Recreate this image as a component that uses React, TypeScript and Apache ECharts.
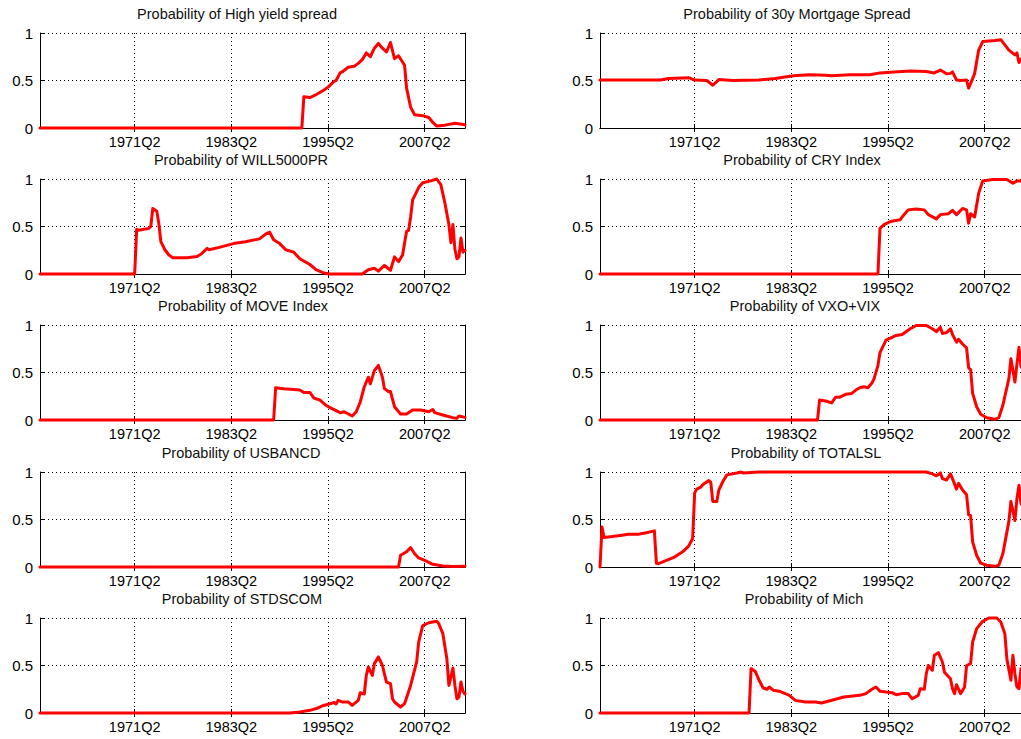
import React, { useEffect, useRef } from "react";
import * as echarts from "echarts";

// ---------- data ----------
const FIRST_YEAR = 1959;
const FIRST_Q = 3;
const LAST_YEAR = 2012;
const LAST_Q = 2;

const TICK_LABELS = ["1971Q2", "1983Q2", "1995Q2", "2007Q2"];
const Y_TICKS = [0, 0.5, 1];

const HIGH_YIELD: [string, number][] = [
  ["1959Q3", 0], ["1992Q1", 0], ["1992Q2", 0.33], ["1993Q1", 0.32], ["1993Q4", 0.35],
  ["1994Q4", 0.40], ["1995Q2", 0.43], ["1996Q1", 0.49], ["1996Q2", 0.50], ["1996Q4", 0.58],
  ["1997Q1", 0.59], ["1997Q4", 0.64], ["1998Q3", 0.65], ["1999Q1", 0.68], ["1999Q3", 0.72],
  ["2000Q1", 0.79], ["2000Q3", 0.75], ["2001Q1", 0.84], ["2001Q3", 0.89], ["2002Q1", 0.84],
  ["2002Q3", 0.80], ["2003Q1", 0.90], ["2003Q3", 0.73], ["2004Q1", 0.76], ["2004Q4", 0.66],
  ["2005Q1", 0.42], ["2005Q3", 0.22], ["2006Q1", 0.14], ["2007Q1", 0.13], ["2007Q4", 0.11],
  ["2008Q2", 0.06], ["2008Q4", 0.02], ["2009Q4", 0.03], ["2011Q1", 0.05], ["2012Q2", 0.035],
];

const MORTGAGE_30Y: [string, number][] = [
  ["1959Q3", 0.505], ["1967Q1", 0.505], ["1968Q1", 0.52], ["1970Q3", 0.53], ["1971Q2", 0.505],
  ["1972Q4", 0.50], ["1973Q3", 0.45], ["1974Q2", 0.51], ["1976Q1", 0.50], ["1979Q2", 0.505],
  ["1981Q2", 0.52], ["1983Q3", 0.55], ["1985Q3", 0.56], ["1987Q3", 0.555], ["1988Q2", 0.55],
  ["1990Q3", 0.56], ["1993Q1", 0.56], ["1994Q2", 0.58], ["1996Q1", 0.59], ["1998Q1", 0.60],
  ["2000Q1", 0.595], ["2001Q1", 0.58], ["2001Q4", 0.61], ["2002Q3", 0.57], ["2003Q1", 0.575],
  ["2003Q2", 0.59], ["2003Q4", 0.505], ["2004Q2", 0.50], ["2005Q1", 0.505], ["2005Q2", 0.42],
  ["2005Q4", 0.52], ["2006Q1", 0.575], ["2006Q3", 0.82], ["2007Q1", 0.91], ["2008Q3", 0.92],
  ["2009Q2", 0.93], ["2010Q2", 0.82], ["2011Q1", 0.77], ["2011Q2", 0.79], ["2011Q3", 0.69],
  ["2012Q1", 0.75], ["2012Q2", 0.73],
];

const WILL5000PR: [string, number][] = [
  ["1959Q3", 0], ["1971Q2", 0], ["1971Q3", 0.47], ["1971Q4", 0.46], ["1973Q1", 0.48],
  ["1973Q2", 0.50], ["1973Q3", 0.69], ["1974Q1", 0.66], ["1974Q2", 0.53], ["1974Q3", 0.34],
  ["1975Q1", 0.255], ["1975Q3", 0.20], ["1976Q1", 0.17], ["1977Q4", 0.17], ["1979Q1", 0.185],
  ["1979Q3", 0.21], ["1980Q2", 0.27], ["1980Q3", 0.255], ["1981Q4", 0.28], ["1983Q3", 0.32],
  ["1985Q1", 0.34], ["1986Q4", 0.37], ["1987Q3", 0.42], ["1988Q1", 0.44], ["1988Q3", 0.36],
  ["1989Q2", 0.32], ["1990Q1", 0.255], ["1991Q1", 0.23], ["1991Q4", 0.16], ["1993Q1", 0.10],
  ["1993Q4", 0.045], ["1994Q4", 0.01], ["1995Q3", 0], ["1999Q3", 0], ["2000Q2", 0.045],
  ["2001Q1", 0.06], ["2001Q3", 0.03], ["2002Q2", 0.09], ["2003Q1", 0.04], ["2003Q3", 0.18],
  ["2004Q1", 0.13], ["2004Q3", 0.20], ["2005Q1", 0.45], ["2005Q2", 0.46], ["2005Q3", 0.60],
  ["2005Q4", 0.78], ["2006Q3", 0.91], ["2007Q1", 0.96], ["2008Q1", 0.98], ["2008Q4", 1.0],
  ["2009Q2", 0.94], ["2009Q4", 0.75], ["2010Q2", 0.52], ["2010Q3", 0.33], ["2010Q4", 0.52],
  ["2011Q1", 0.26], ["2011Q2", 0.16], ["2011Q3", 0.18], ["2011Q4", 0.38], ["2012Q1", 0.23],
  ["2012Q2", 0.25],
];

const CRY_INDEX: [string, number][] = [
  ["1959Q3", 0], ["1994Q1", 0], ["1994Q2", 0.48], ["1994Q4", 0.52], ["1995Q3", 0.55],
  ["1996Q1", 0.56], ["1996Q4", 0.57], ["1997Q1", 0.60], ["1997Q4", 0.675], ["1998Q4", 0.685],
  ["1999Q4", 0.675], ["2000Q2", 0.625], ["2001Q2", 0.58], ["2001Q4", 0.625], ["2002Q4", 0.635],
  ["2003Q2", 0.67], ["2003Q4", 0.625], ["2004Q3", 0.69], ["2005Q1", 0.675], ["2005Q2", 0.535],
  ["2005Q3", 0.635], ["2006Q1", 0.60], ["2006Q3", 0.85], ["2007Q1", 0.98], ["2008Q2", 0.995],
  ["2010Q1", 0.995], ["2010Q4", 0.955], ["2011Q2", 0.98], ["2012Q2", 0.98],
];

const MOVE_INDEX: [string, number][] = [
  ["1959Q3", 0], ["1988Q3", 0], ["1988Q4", 0.34], ["1989Q4", 0.33], ["1991Q1", 0.32],
  ["1991Q4", 0.315], ["1992Q2", 0.29], ["1993Q1", 0.29], ["1993Q3", 0.23], ["1994Q2", 0.21],
  ["1995Q1", 0.155], ["1995Q3", 0.13], ["1996Q1", 0.11], ["1996Q4", 0.077], ["1997Q2", 0.087],
  ["1998Q2", 0.042], ["1998Q4", 0.087], ["1999Q2", 0.19], ["1999Q4", 0.35], ["2000Q2", 0.45],
  ["2000Q3", 0.38], ["2001Q1", 0.52], ["2001Q3", 0.575], ["2002Q1", 0.45], ["2002Q2", 0.33],
  ["2002Q4", 0.30], ["2003Q1", 0.30], ["2003Q3", 0.14], ["2004Q2", 0.063], ["2005Q1", 0.063],
  ["2005Q4", 0.105], ["2006Q4", 0.105], ["2007Q4", 0.087], ["2008Q2", 0.11], ["2008Q3", 0.077],
  ["2009Q3", 0.052], ["2010Q4", 0.024], ["2011Q2", 0.017], ["2011Q3", 0.042], ["2012Q2", 0.028],
];

const VXO_VIX: [string, number][] = [
  ["1959Q3", 0], ["1986Q3", 0], ["1986Q4", 0.21], ["1987Q3", 0.20], ["1988Q2", 0.18],
  ["1988Q4", 0.24], ["1989Q2", 0.24], ["1990Q1", 0.27], ["1990Q4", 0.28], ["1991Q2", 0.315],
  ["1991Q4", 0.34], ["1992Q2", 0.35], ["1992Q4", 0.34], ["1993Q2", 0.39], ["1993Q3", 0.43],
  ["1994Q1", 0.575], ["1994Q2", 0.71], ["1995Q1", 0.84], ["1995Q4", 0.87], ["1996Q2", 0.89],
  ["1997Q1", 0.90], ["1998Q1", 0.96], ["1998Q4", 0.995], ["2000Q1", 0.995], ["2000Q4", 0.96],
  ["2001Q2", 0.93], ["2001Q4", 0.975], ["2002Q1", 0.91], ["2002Q3", 0.92], ["2003Q1", 0.96],
  ["2003Q2", 0.90], ["2003Q4", 0.82], ["2004Q1", 0.85], ["2004Q3", 0.80], ["2005Q1", 0.76],
  ["2005Q2", 0.55], ["2005Q3", 0.53], ["2005Q4", 0.28], ["2006Q2", 0.14], ["2006Q4", 0.06],
  ["2007Q3", 0.024], ["2008Q3", 0.007], ["2009Q1", 0.024], ["2009Q3", 0.155], ["2010Q2", 0.435],
  ["2010Q3", 0.645], ["2011Q1", 0.40], ["2011Q2", 0.59], ["2011Q3", 0.765], ["2011Q4", 0.565],
  ["2012Q2", 0.5],
];

const USBANCD: [string, number][] = [
  ["1959Q3", 0], ["2004Q1", 0], ["2004Q2", 0.124], ["2005Q1", 0.16], ["2005Q3", 0.205],
  ["2006Q1", 0.14], ["2006Q3", 0.095], ["2007Q2", 0.07], ["2008Q2", 0.028], ["2009Q3", 0.01],
  ["2010Q4", 0.004], ["2012Q2", 0.007],
];

const TOTALSL: [string, number][] = [
  ["1959Q3", 0], ["1959Q4", 0.42], ["1960Q1", 0.31], ["1961Q1", 0.32], ["1962Q2", 0.335],
  ["1963Q1", 0.345], ["1964Q2", 0.345], ["1965Q2", 0.36], ["1966Q2", 0.38], ["1966Q3", 0.04],
  ["1966Q4", 0.035], ["1967Q4", 0.07], ["1968Q4", 0.105], ["1969Q4", 0.16], ["1970Q3", 0.22],
  ["1971Q1", 0.30], ["1971Q2", 0.78], ["1971Q3", 0.82], ["1972Q1", 0.84], ["1972Q2", 0.865],
  ["1973Q1", 0.91], ["1973Q2", 0.89], ["1973Q3", 0.69], ["1974Q1", 0.69], ["1974Q2", 0.81],
  ["1974Q4", 0.90], ["1975Q2", 0.97], ["1976Q3", 0.99], ["1977Q1", 1.0], ["1977Q2", 0.99],
  ["1979Q2", 1.0], ["2000Q1", 1.0], ["2000Q4", 0.98], ["2001Q2", 0.96], ["2001Q4", 0.99],
  ["2002Q1", 0.93], ["2002Q3", 0.915], ["2003Q1", 0.98], ["2003Q2", 0.93], ["2003Q4", 0.82],
  ["2004Q1", 0.88], ["2004Q3", 0.81], ["2005Q1", 0.76], ["2005Q2", 0.55], ["2005Q3", 0.54],
  ["2005Q4", 0.265], ["2006Q2", 0.124], ["2006Q4", 0.04], ["2007Q3", 0.018], ["2008Q3", 0.007],
  ["2009Q1", 0.018], ["2009Q3", 0.14], ["2010Q2", 0.48], ["2010Q3", 0.69], ["2011Q1", 0.49],
  ["2011Q2", 0.72], ["2011Q3", 0.86], ["2011Q4", 0.67], ["2012Q2", 0.6],
];

const STDSCOM: [string, number][] = [
  ["1959Q3", 0], ["1990Q3", 0], ["1991Q4", 0.01], ["1993Q1", 0.028], ["1994Q1", 0.053],
  ["1994Q3", 0.074], ["1995Q3", 0.098], ["1996Q1", 0.11], ["1996Q2", 0.095], ["1996Q3", 0.133],
  ["1997Q1", 0.116], ["1997Q4", 0.116], ["1998Q2", 0.08], ["1999Q1", 0.133], ["1999Q2", 0.214],
  ["1999Q4", 0.20], ["2000Q1", 0.396], ["2000Q2", 0.484], ["2000Q4", 0.396], ["2001Q1", 0.52],
  ["2001Q3", 0.59], ["2002Q1", 0.50], ["2002Q3", 0.326], ["2003Q1", 0.31], ["2003Q2", 0.15],
  ["2003Q3", 0.116], ["2004Q2", 0.063], ["2004Q4", 0.098], ["2005Q3", 0.29], ["2006Q2", 0.537],
  ["2006Q3", 0.747], ["2007Q1", 0.92], ["2007Q4", 0.95], ["2008Q4", 0.965], ["2009Q1", 0.94],
  ["2009Q3", 0.835], ["2010Q1", 0.57], ["2010Q2", 0.29], ["2010Q4", 0.474], ["2011Q1", 0.29],
  ["2011Q2", 0.15], ["2011Q3", 0.168], ["2011Q4", 0.326], ["2012Q1", 0.228], ["2012Q2", 0.20],
];

const MICH: [string, number][] = [
  ["1959Q3", 0], ["1978Q1", 0], ["1978Q2", 0.467], ["1978Q4", 0.44], ["1979Q2", 0.344],
  ["1979Q4", 0.263], ["1980Q2", 0.25], ["1980Q3", 0.274], ["1981Q1", 0.24], ["1981Q4", 0.23],
  ["1983Q1", 0.186], ["1983Q4", 0.133], ["1985Q1", 0.116], ["1986Q2", 0.116], ["1987Q1", 0.105],
  ["1988Q3", 0.14], ["1989Q4", 0.168], ["1991Q4", 0.186], ["1992Q3", 0.204], ["1993Q2", 0.25],
  ["1993Q4", 0.274], ["1994Q2", 0.23], ["1995Q1", 0.22], ["1995Q4", 0.214], ["1996Q2", 0.193],
  ["1997Q1", 0.204], ["1997Q4", 0.204], ["1998Q2", 0.15], ["1999Q1", 0.186], ["1999Q2", 0.256],
  ["1999Q4", 0.25], ["2000Q1", 0.414], ["2000Q2", 0.50], ["2000Q4", 0.45], ["2001Q1", 0.607],
  ["2001Q3", 0.635], ["2002Q1", 0.537], ["2002Q2", 0.43], ["2003Q1", 0.36], ["2003Q2", 0.256],
  ["2003Q3", 0.204], ["2003Q4", 0.298], ["2004Q2", 0.204], ["2004Q4", 0.274], ["2005Q1", 0.50],
  ["2005Q3", 0.52], ["2005Q4", 0.747], ["2006Q2", 0.888], ["2007Q1", 0.965], ["2007Q4", 1.0],
  ["2008Q4", 1.0], ["2009Q2", 0.958], ["2009Q4", 0.835], ["2010Q1", 0.57], ["2010Q3", 0.344],
  ["2010Q4", 0.607], ["2011Q1", 0.414], ["2011Q2", 0.274], ["2011Q3", 0.256], ["2011Q4", 0.467],
  ["2012Q2", 0.35],
];

// column-major: left column top to bottom, then right column
const TITLES = [
  "Probability of High yield spread",
  "Probability of WILL5000PR",
  "Probability of MOVE Index",
  "Probability of USBANCD",
  "Probability of STDSCOM",
  "Probability of 30y Mortgage Spread",
  "Probability of CRY Index",
  "Probability of VXO+VIX",
  "Probability of TOTALSL",
  "Probability of Mich",
];
const SERIES = [
  HIGH_YIELD, WILL5000PR, MOVE_INDEX, USBANCD, STDSCOM,
  MORTGAGE_30Y, CRY_INDEX, VXO_VIX, TOTALSL, MICH,
];

// ---------- layout ----------
const COL_LEFT = [40, 600];
const GRID_W = 425;
const ROW_TOP = [33, 179, 325, 472, 618];
const GRID_H = 95;
const TITLE_CX = [
  [237, 241, 243, 241, 242],
  [797, 802, 805, 806, 804],
];
const FONT = "'Liberation Sans', Arial, Helvetica, sans-serif";

function buildQuarters(): string[] {
  const out: string[] = [];
  for (let y = FIRST_YEAR; y <= LAST_YEAR; y++) {
    for (let q = 1; q <= 4; q++) {
      if (y === FIRST_YEAR && q < FIRST_Q) continue;
      if (y === LAST_YEAR && q > LAST_Q) continue;
      out.push(`${y}Q${q}`);
    }
  }
  return out;
}

export default function App() {
  const ref = useRef<HTMLDivElement>(null);

  useEffect(() => {
    if (!ref.current) return;
    const chart = echarts.init(ref.current, undefined, { renderer: "svg" });
    const quarters = buildQuarters();
    const isTick = (_i: number, v: string) => TICK_LABELS.includes(v);

    const grid: any[] = [];
    const xAxis: any[] = [];
    const yAxis: any[] = [];
    const series: any[] = [];
    const graphic: any[] = [];

    SERIES.forEach((data, i) => {
      const col = i < 5 ? 0 : 1;
      const row = i % 5;
      grid.push({
        left: COL_LEFT[col],
        top: ROW_TOP[row],
        width: GRID_W,
        height: GRID_H,
        containLabel: false,
      });
    });
    // bottom x axes
    SERIES.forEach((_d, i) => {
      xAxis.push({
        type: "category",
        gridIndex: i,
        data: quarters,
        boundaryGap: false,
        position: "bottom",
        axisLine: { show: true, lineStyle: { color: "#000", width: 1 } },
        axisTick: { show: true, inside: true, length: 4, interval: isTick, lineStyle: { color: "#000" } },
        axisLabel: {
          show: true,
          interval: isTick,
          color: "#000",
          fontSize: 14.5,
          fontFamily: FONT,
          margin: 6,
        },
        splitLine: {
          show: true,
          interval: isTick,
          lineStyle: { color: "#000", type: [1, 3], width: 1 },
        },
      });
    });
    // top mirror x axes
    SERIES.forEach((_d, i) => {
      xAxis.push({
        type: "category",
        gridIndex: i,
        data: quarters,
        boundaryGap: false,
        position: "top",
        axisLine: { show: true, lineStyle: { color: "#000", width: 1 } },
        axisTick: { show: true, inside: true, length: 4, interval: isTick, lineStyle: { color: "#000" } },
        axisLabel: { show: false },
        splitLine: { show: false },
      });
    });
    // left y axes
    SERIES.forEach((_d, i) => {
      yAxis.push({
        type: "value",
        gridIndex: i,
        min: Y_TICKS[0],
        max: Y_TICKS[Y_TICKS.length - 1],
        interval: Y_TICKS[1] - Y_TICKS[0],
        position: "left",
        axisLine: { show: true, lineStyle: { color: "#000", width: 1 } },
        axisTick: { show: true, inside: true, length: 4, lineStyle: { color: "#000" } },
        axisLabel: {
          show: true,
          color: "#000",
          fontSize: 15,
          fontFamily: FONT,
          margin: 7,
          formatter: (v: number) => String(v),
        },
        splitLine: { show: true, lineStyle: { color: "#000", type: [1, 3], width: 1 } },
      });
    });
    // right mirror y axes
    SERIES.forEach((_d, i) => {
      yAxis.push({
        type: "value",
        gridIndex: i,
        min: Y_TICKS[0],
        max: Y_TICKS[Y_TICKS.length - 1],
        interval: Y_TICKS[1] - Y_TICKS[0],
        position: "right",
        axisLine: { show: true, lineStyle: { color: "#000", width: 1 } },
        axisTick: { show: true, inside: true, length: 4, lineStyle: { color: "#000" } },
        axisLabel: { show: false },
        splitLine: { show: false },
      });
    });
    SERIES.forEach((data, i) => {
      series.push({
        type: "line",
        name: TITLES[i],
        xAxisIndex: i,
        yAxisIndex: i,
        data: data,
        showSymbol: false,
        symbol: "none",
        clip: false,
        z: 5,
        lineStyle: { color: "#ff0000", width: 3, join: "round", cap: "round" },
        itemStyle: { color: "#ff0000" },
      });
      const col = i < 5 ? 0 : 1;
      const row = i % 5;
      graphic.push({
        type: "text",
        x: TITLE_CX[col][row],
        y: ROW_TOP[row] - 19,
        style: {
          text: TITLES[i],
          fill: "#111",
          font: `14.5px ${FONT}`,
          textAlign: "center",
          textVerticalAlign: "middle",
        },
      });
    });

    chart.setOption({
      animation: false,
      backgroundColor: "#fff",
      grid,
      xAxis,
      yAxis,
      series,
      graphic,
    });
    return () => chart.dispose();
  }, []);

  return (
    <div
      style={{
        position: "fixed",
        left: 0,
        top: 0,
        width: 1021,
        height: 739,
        overflow: "hidden",
        background: "#fff",
      }}
    >
      <div ref={ref} style={{ width: 1030, height: 739 }} />
    </div>
  );
}
